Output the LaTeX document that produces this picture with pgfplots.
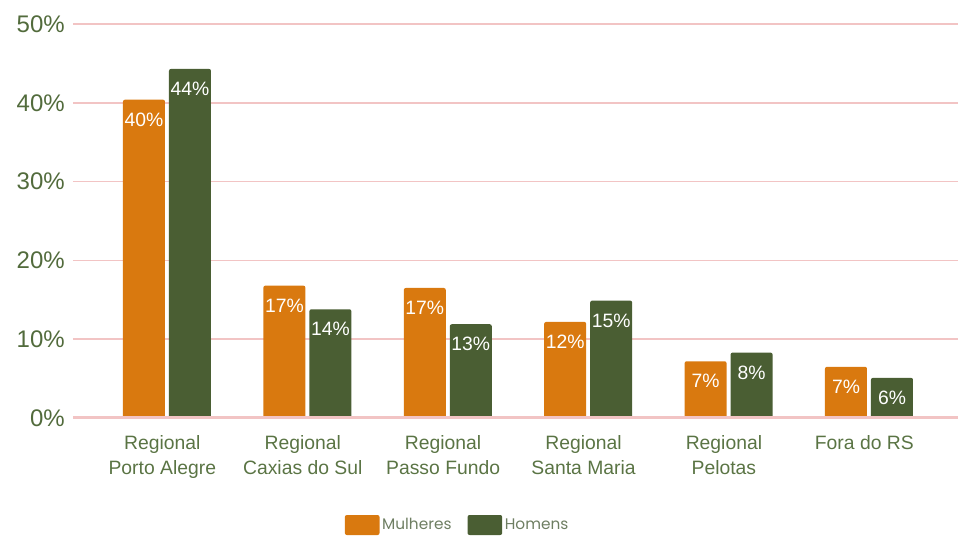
\documentclass[border=0pt]{standalone}
\usepackage{pgfplots}
\pgfplotsset{compat=1.18}
\usepackage{fontspec}
\setmainfont{Liberation Sans}
\newfontfamily\legfont{Poppins}
\definecolor{cOrange}{HTML}{D9790F}
\definecolor{cGreen}{HTML}{4A5E33}
\definecolor{cGrid}{HTML}{F2C4C4}
\definecolor{cTick}{HTML}{526B3C}
\definecolor{cCat}{HTML}{5A7444}
\definecolor{cLeg}{HTML}{6E7E62}
\begin{document}
\begin{tikzpicture}
\useasboundingbox (-54.75pt,-88.5pt) rectangle (663.75pt,313.5pt);
\begin{axis}[
  at={(0pt,0pt)}, anchor=south west,
  scale only axis,
  width=663.75pt, height=295.5pt,
  xmin=-0.6695, xmax=5.634,
  ymin=0, ymax=50,
  ybar=3pt, bar width=31.5pt,
  axis line style={draw=none},
  ytick={0,10,20,30,40,50},
  yticklabel={\pgfmathprintnumber{\tick}\%},
  /pgf/number format/assume math mode=true,
  ymajorgrids, grid style={cGrid, line width=1.2pt},
  major tick length=0pt,
  yticklabel style={font=\fontsize{18}{20}\selectfont, text=cTick, anchor=east, inner sep=0pt, xshift=-6pt},
  xtick={0,1,2,3,4,5},
  xticklabels={{Regional\\Porto Alegre},{Regional\\Caxias do Sul},{Regional\\Passo Fundo},{Regional\\Santa Maria},{Regional\\Pelotas},{Fora do RS}},
  xticklabel style={font=\fontsize{14.5}{19}\selectfont, text=cCat, align=center, anchor=north, inner sep=0pt, yshift=-12.75pt, xshift=-3.5pt},
  point meta=explicit symbolic,
  nodes near coords={\pgfplotspointmeta\%},
  nodes near coords style={font=\fontsize{14.5}{16}\selectfont, text=white, anchor=center, yshift=-15pt},
  legend style={at={(0.435,-0.2716)}, anchor=center, draw=none, fill=none,
    legend columns=2, font=\legfont\fontsize{11.5}{13}\selectfont, text=cLeg,
    /tikz/every even column/.append style={column sep=10pt},
    inner sep=0pt},
  legend image code/.code={\fill[#1] (0pt,-7.5pt) rectangle (26pt,7.5pt);},
]
\addplot[fill=cOrange, draw=none, rounded corners=1.5pt] table[x=x, y=y, meta=l] {
x y l
0 40.4 40
1 16.8 17
2 16.5 17
3 12.2 12
4 7.2 7
5 6.5 7
};
\addlegendentry{Mulheres}
\addplot[fill=cGreen, draw=none, rounded corners=1.5pt] table[x=x, y=y, meta=l] {
x y l
0 44.3 44
1 13.8 14
2 11.9 13
3 14.9 15
4 8.3 8
5 5.1 6
};
\addlegendentry{Homens}
\draw[cGrid, line width=2.5pt] (rel axis cs:0,0) -- (rel axis cs:1,0);
\end{axis}
\end{tikzpicture}
\end{document}
